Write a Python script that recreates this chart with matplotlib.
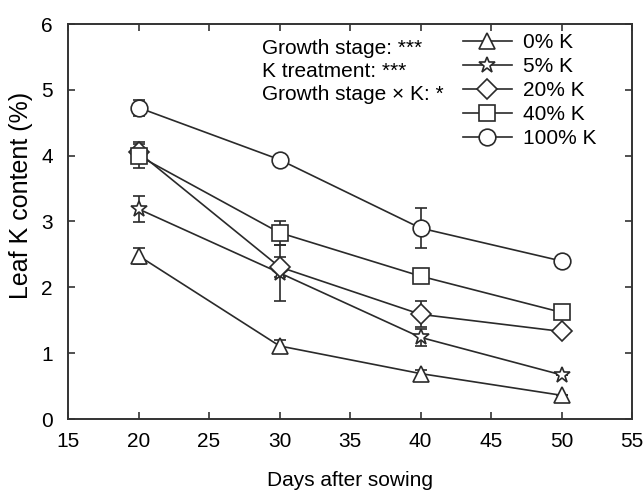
import matplotlib
matplotlib.use('Agg')
import matplotlib.pyplot as plt
from matplotlib.lines import Line2D

plt.rcParams['font.family'] = ['Liberation Sans', 'DejaVu Sans']

days = [20, 30, 40, 50]

k0 = [2.48, 1.11, 0.69, 0.36]
k0_err = [0.12, 0.09, 0.06, 0.0]
k5 = [3.19, 2.22, 1.24, 0.67]
k5_err = [0.2, 0.42, 0.13, 0.0]
k20 = [4.05, 2.31, 1.59, 1.33]
k20_err = [0.15, 0.15, 0.2, 0.0]
k40 = [4.0, 2.83, 2.17, 1.62]
k40_err = [0.18, 0.18, 0.0, 0.0]
k100 = [4.73, 3.94, 2.9, 2.4]
k100_err = [0.12, 0.0, 0.3, 0.0]

labels = ['0% K', '5% K', '20% K', '40% K', '100% K']
markers = ['^', '*', 'D', 's', 'o']
sizes = [12, 12, 10, 11.3, 12]

stats_text = ['Growth stage: ***', 'K treatment: ***', 'Growth stage \u00d7 K: *']

col = '#2a2a2a'

fig = plt.figure(figsize=(6.44, 4.9), dpi=100)
ax = fig.add_axes([68 / 644, 1 - 419 / 490, 564 / 644, 395 / 490])

series = [(k0, k0_err), (k5, k5_err), (k20, k20_err), (k40, k40_err), (k100, k100_err)]
handles = []
for (vals, errs), lab, m, ms in zip(series, labels, markers, sizes):
    ax.errorbar(days, vals, yerr=errs, color=col, lw=1.2, marker=m, ms=ms,
                mfc='white', mec=col, mew=1.2, capsize=4.5, capthick=1.2,
                elinewidth=1.2)
    handles.append(Line2D([], [], color=col, lw=1.2, marker=m, ms=ms,
                          mfc='white', mec=col, mew=1.2, label=lab))

ax.set_xlim(15, 55)
ax.set_ylim(0, 6)
ax.set_xticks(range(15, 56, 5))
ax.set_yticks(range(0, 7))
ax.tick_params(direction='in', top=True, right=True, labelsize=15, length=5,
               width=1.2, color='#333333')
ax.tick_params(axis='x', pad=9)
ax.tick_params(axis='y', pad=11)
for s in ax.spines.values():
    s.set_linewidth(1.4)
    s.set_color('#333333')

ax.set_xlabel('Days after sowing', fontsize=15, labelpad=15)
ax.set_ylabel('Leaf K content (%)', fontsize=18, va='center')
ax.yaxis.set_label_coords(-0.083, 0.567)

for i, t in enumerate(stats_text):
    fig.text(262 / 644, 1 - (48 + i * 23.5) / 490, t, fontsize=15,
             va='center', ha='left')

fig.legend(handles=handles, loc='upper left',
           bbox_to_anchor=(463 / 644, 1 - 33 / 490), frameon=False,
           fontsize=15, handlelength=2.35, labelspacing=0.24, handletextpad=0.55,
           borderaxespad=0, borderpad=0)

fig.savefig('out.png', dpi=100)
